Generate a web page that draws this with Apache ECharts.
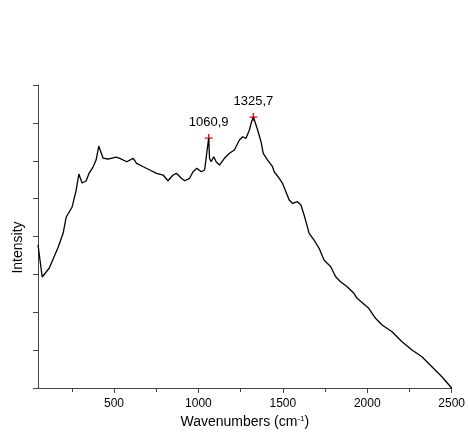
<!DOCTYPE html>
<html>
<head>
<meta charset="utf-8">
<script src="https://cdn.jsdelivr.net/npm/echarts@6/dist/echarts.min.js"></script>
<style>
  html, body { margin: 0; padding: 0; background: #fff; }
  #chart { width: 468px; height: 445px; }
</style>
</head>
<body>
<div id="chart"></div>
<script>
// spectrum (wavenumber, intensity in arbitrary units)
var wavenumbers = [50, 75, 117, 170, 199, 217, 235, 252, 276, 292, 311, 335, 353, 376, 394, 410, 435, 465,
  512, 535, 575, 614, 634, 673, 712, 752, 791, 820, 850, 870, 899, 919, 948, 968, 991, 1017, 1037, 1048,
  1060.9, 1066, 1076, 1091, 1105, 1125, 1154, 1184, 1213, 1243, 1262, 1282, 1302, 1315, 1325.7, 1351, 1371,
  1384, 1410, 1439, 1449, 1479, 1498, 1518, 1538, 1557, 1587, 1607, 1626, 1640, 1656, 1685, 1715, 1744,
  1784, 1813, 1842, 1881, 1921, 1940, 2009, 2049, 2088, 2147, 2206, 2265, 2324, 2383, 2442, 2500];
var intensity = [3780, 2930, 3168, 3722, 4092, 4514, 4646, 4778, 5227, 5650, 5412, 5465, 5676, 5834, 6019, 6389, 6072, 6046,
  6098, 6064, 5974, 6064, 5932, 5842, 5755, 5668, 5623, 5473, 5623, 5668, 5536, 5473, 5536, 5710, 5800, 5710, 5755, 6151,
  6600, 6064, 5974, 6106, 5974, 5887, 6064, 6196, 6283, 6547, 6634, 6592, 6811, 7030, 7154, 6811, 6502,
  6196, 6019, 5842, 5710, 5536, 5404, 5182, 4963, 4876, 4918, 4831, 4567, 4348, 4084, 3907, 3688, 3379,
  3202, 2938, 2806, 2674, 2500, 2368, 2104, 1840, 1663, 1486, 1222, 1003, 826, 562, 298, 0];

var peakX = [1060.9, 1325.7];
var peakY = [6600, 7154];

var majorTicks = [500, 1000, 1500, 2000, 2500];
var minorTicks = [250, 750, 1250, 1750, 2250];

var font = 'Liberation Sans, Arial, sans-serif';
var axisColor = '#444';

var myChart = echarts.init(document.getElementById('chart'));

var option = {
    animation: false,
    backgroundColor: '#fff',
    grid: { left: 38, right: 15, top: 85, bottom: 57 },
    xAxis: [
        {
            type: 'value',
            min: 50,
            max: 2500,
            name: 'Wavenumbers (cm{sup|-1})',
            nameLocation: 'middle',
            nameGap: 26,
            nameTextStyle: {
                fontFamily: font, fontSize: 14, color: '#000',
                rich: { sup: { fontFamily: font, fontSize: 8, color: '#000', verticalAlign: 'top' } }
            },
            axisLine: { lineStyle: { color: axisColor, width: 1 } },
            axisTick: { customValues: majorTicks, length: 5, lineStyle: { color: axisColor } },
            axisLabel: {
                customValues: majorTicks, fontFamily: font, fontSize: 12, color: '#000', margin: 10,
                formatter: function (v) { return String(v); }
            },
            splitLine: { show: false }
        },
        {
            type: 'value',
            min: 50,
            max: 2500,
            position: 'bottom',
            axisLine: { show: false },
            axisTick: { customValues: minorTicks, length: 4, lineStyle: { color: axisColor } },
            axisLabel: { show: false },
            splitLine: { show: false }
        }
    ],
    yAxis: {
        type: 'value',
        min: 0,
        max: 8000,
        interval: 1000,
        name: 'Intensity',
        nameLocation: 'middle',
        nameGap: 13,
        nameTextStyle: { fontFamily: font, fontSize: 14, color: '#000', padding: [0, 22, 0, 0] },
        axisLine: { show: true, lineStyle: { color: axisColor, width: 1 } },
        axisTick: { show: true, length: 5, lineStyle: { color: axisColor } },
        axisLabel: { show: false },
        splitLine: { show: false }
    },
    series: [
        {
            type: 'line',
            xAxisIndex: 0,
            data: wavenumbers.map(function (w, i) { return [w, intensity[i]]; }),
            showSymbol: false,
            lineStyle: { color: '#000', width: 1.3 },
            silent: true
        },
        {
            type: 'scatter',
            xAxisIndex: 0,
            data: peakX.map(function (w, i) { return [w, peakY[i]]; }),
            symbol: 'path://M0,5L10,5M5,0L5,10',
            symbolSize: 8,
            itemStyle: { color: 'none', borderColor: '#ff0000', borderWidth: 1.3, opacity: 1 },
            label: {
                show: true,
                position: 'top',
                distance: 3,
                fontFamily: font,
                fontSize: 13,
                color: '#000',
                formatter: function (p) { return String(p.value[0]).replace('.', ','); }
            },
            silent: true
        }
    ]
};

myChart.setOption(option);
</script>
</body>
</html>
